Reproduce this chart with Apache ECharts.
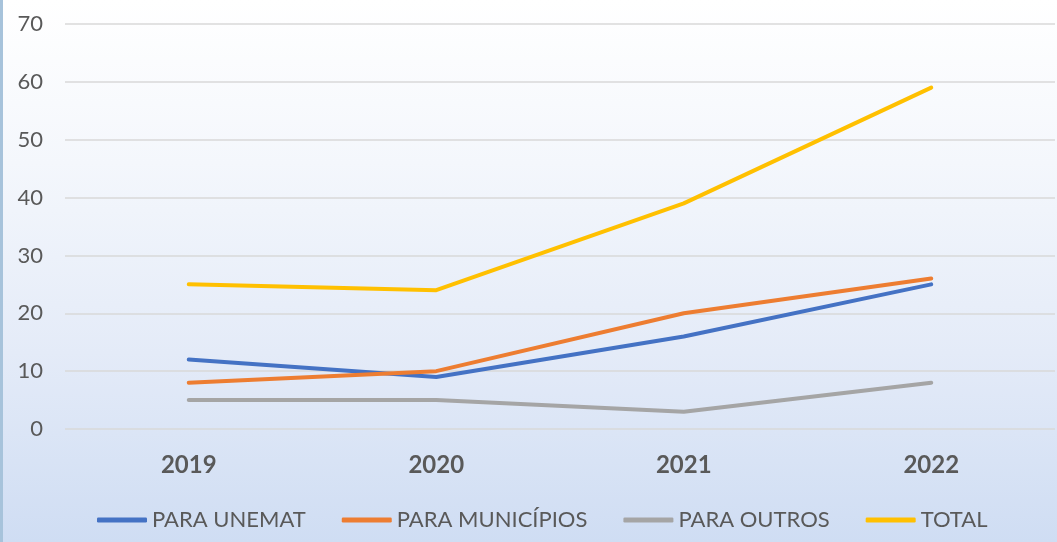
<!DOCTYPE html>
<html>
<head>
    <meta charset="utf-8">
    <title>chart</title>
    <script src="https://cdn.jsdelivr.net/npm/echarts@6/dist/echarts.min.js"></script>
    <style>
        html, body { margin: 0; padding: 0; }
        #main {
            width: 1057px; height: 542px; box-sizing: border-box;
            border-left: 3px solid #a7c3db;
            background: linear-gradient(to bottom, #ffffff 0%, #f4f7fc 30%, #e4ebf8 65%, #cfddf3 100%);
        }
    </style>
</head>
<body>
<div id="main"></div>
<script type="text/javascript">
    // dados
    var anos = ["2019", "2020", "2021", "2022"];
    var paraUnemat = [12, 9, 16, 25];
    var paraMunicipios = [8, 10, 20, 26];
    var paraOutros = [5, 5, 3, 8];
    var total = [25, 24, 39, 59];
    var yTicks = [0, 10, 20, 30, 40, 50, 60, 70];

    var colors = ['#4472c4', '#ed7d31', '#a5a5a5', '#ffc000'];
    var fonte = 'Lato, "Open Sans", sans-serif';

    function linha(nome, dados) {
        return {
            name: nome, type: 'line', data: dados,
            symbol: 'none', lineStyle: { width: 4, cap: 'round' }
        };
    }

    var myChart = echarts.init(document.getElementById('main'));
    myChart.setOption({
        color: colors,
        animation: false,
        textStyle: { fontFamily: fonte },
        grid: { left: 62, right: 2, top: 24, bottom: 113, containLabel: false },
        legend: {
            left: 89, top: 504,
            icon: 'roundRect', itemWidth: 50, itemHeight: 5, itemGap: 36,
            textStyle: { fontSize: 22, color: '#595959', fontFamily: fonte },
            data: ['PARA UNEMAT', 'PARA MUNICÍPIOS', 'PARA OUTROS', 'TOTAL']
        },
        xAxis: {
            type: 'category', data: anos,
            axisLine: { show: false }, axisTick: { show: false },
            axisLabel: { fontSize: 24, fontWeight: 'bold', color: '#595959', margin: 24, fontFamily: fonte }
        },
        yAxis: {
            type: 'value', min: yTicks[0], max: yTicks[yTicks.length - 1], interval: 10,
            axisLabel: { fontSize: 22, color: '#595959', margin: 22, fontFamily: fonte },
            splitLine: { lineStyle: { color: '#d9d9d9', width: 1.5 } }
        },
        series: [
            linha('PARA UNEMAT', paraUnemat),
            linha('PARA MUNICÍPIOS', paraMunicipios),
            linha('PARA OUTROS', paraOutros),
            linha('TOTAL', total)
        ]
    });
</script>
</body>
</html>
